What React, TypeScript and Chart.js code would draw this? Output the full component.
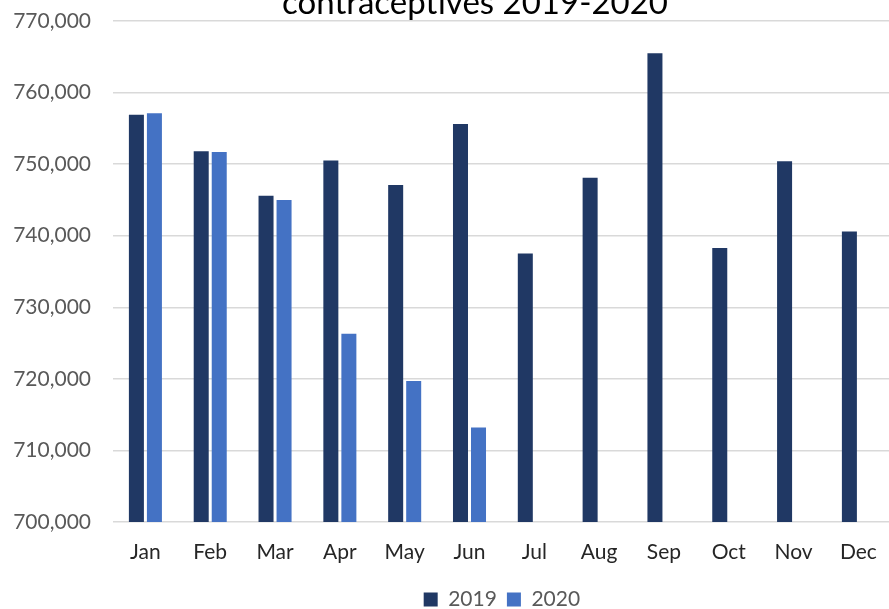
import React, { useEffect, useRef } from "react";
import { Chart, registerables } from "chart.js";

Chart.register(...registerables);

const months = ["Jan", "Feb", "Mar", "Apr", "May", "Jun", "Jul", "Aug", "Sep", "Oct", "Nov", "Dec"];
const values2019 = [756900, 751800, 745600, 750500, 747100, 755600, 737500, 748100, 765500, 738300, 750400, 740600];
const values2020 = [757100, 751700, 745000, 726300, 719700, 713200, null, null, null, null, null, null];
const seriesLabels = ["2019", "2020"];
const titleText = "contraceptives 2019-2020";

const FONT = "Lato, 'Open Sans', sans-serif";

const titlePlugin = {
  id: "clippedTitle",
  afterDraw(chart: any) {
    const ctx = chart.ctx;
    ctx.save();
    ctx.font = `33px ${FONT}`;
    ctx.fillStyle = "#000000";
    ctx.textAlign = "center";
    ctx.textBaseline = "alphabetic";
    ctx.fillText(titleText, 475, 14);
    ctx.restore();
  },
};

export default function App() {
  const canvasRef = useRef<HTMLCanvasElement | null>(null);

  useEffect(() => {
    const canvas = canvasRef.current;
    if (!canvas) return;
    const chart = new Chart(canvas, {
      type: "bar",
      data: {
        labels: months,
        datasets: [
          {
            label: seriesLabels[0],
            data: values2019,
            backgroundColor: "#203864",
            categoryPercentage: 0.556,
            barPercentage: 0.833,
          },
          {
            label: seriesLabels[1],
            data: values2020,
            backgroundColor: "#4472C4",
            categoryPercentage: 0.556,
            barPercentage: 0.833,
          },
        ],
      },
      options: {
        animation: false,
        responsive: false,
        maintainAspectRatio: false,
        layout: { padding: { left: 0, right: 3, top: 21, bottom: -11 } },
        plugins: {
          title: { display: false },
          tooltip: { enabled: false },
          legend: {
            position: "bottom",
            fullSize: false,
            labels: {
              boxWidth: 14,
              boxHeight: 14,
              padding: 10,
              color: "#595959",
              font: { family: FONT, size: 21 },
            },
          },
        },
        scales: {
          x: {
            grid: { display: false, drawTicks: false },
            border: { display: false },
            ticks: {
              color: "#262626",
              font: { family: FONT, size: 21 },
              padding: 18,
              maxRotation: 0,
              autoSkip: false,
            },
            afterFit: (scale: any) => {
              scale.height = 57;
            },
          },
          y: {
            min: 700000,
            max: 770000,
            grid: { color: "#D9D9D9", lineWidth: 1.5, drawTicks: false },
            border: { display: false },
            ticks: {
              stepSize: 10000,
              color: "#595959",
              font: { family: FONT, size: 21 },
              padding: 22,
              callback: (v: any) => Number(v).toLocaleString("en-US"),
            },
            afterFit: (scale: any) => {
              scale.width = 113;
              scale.paddingTop = 0;
              scale.paddingBottom = 0;
            },
          },
        },
      },
      plugins: [titlePlugin],
    });
    return () => chart.destroy();
  }, []);

  return (
    <div style={{ position: "fixed", left: 0, top: 0, width: 889, height: 609, overflow: "hidden", background: "#fff" }}>
      <canvas ref={canvasRef} width={895} height={609} style={{ display: "block", width: 895, height: 609 }} />
    </div>
  );
}
